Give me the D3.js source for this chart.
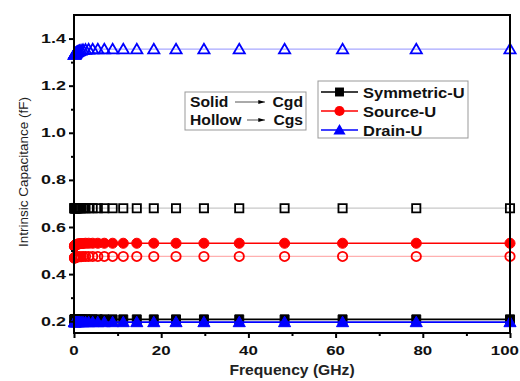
<!DOCTYPE html>
<html><head><meta charset="utf-8">
<script src="https://cdn.jsdelivr.net/npm/d3@7"></script>
<style>body{margin:0;background:#fff}svg{display:block}</style>
</head><body>
<svg id="c" width="520" height="381"></svg>
<script>
const freq = [0.1,0.113,0.144,0.183,0.234,0.298,0.379,0.483,0.616,0.785,1.0,1.27,1.62,2.07,2.64,3.36,4.28,5.46,6.95,8.86,11.3,14.4,18.3,23.4,29.8,37.9,48.3,61.6,78.5,100];
const symCgd = [0.208,0.208,0.208,0.208,0.208,0.208,0.208,0.208,0.208,0.208,0.208,0.208,0.208,0.208,0.208,0.208,0.208,0.208,0.208,0.208,0.208,0.208,0.208,0.208,0.208,0.208,0.208,0.208,0.208,0.208];
const symCgs = [0.680,0.680,0.680,0.680,0.680,0.680,0.680,0.680,0.680,0.680,0.680,0.680,0.680,0.680,0.680,0.680,0.680,0.680,0.680,0.680,0.680,0.680,0.680,0.680,0.680,0.680,0.680,0.680,0.680,0.680];
const srcCgd = [0.518,0.519,0.520,0.521,0.522,0.523,0.524,0.525,0.526,0.527,0.528,0.529,0.530,0.530,0.531,0.531,0.531,0.531,0.531,0.531,0.531,0.531,0.531,0.531,0.531,0.531,0.531,0.531,0.531,0.531];
const srcCgs = [0.468,0.469,0.469,0.470,0.471,0.471,0.472,0.472,0.473,0.473,0.474,0.474,0.474,0.475,0.475,0.475,0.475,0.475,0.475,0.475,0.475,0.475,0.475,0.475,0.475,0.475,0.475,0.475,0.475,0.475];
const drnCgd = [0.196,0.196,0.196,0.196,0.196,0.196,0.196,0.196,0.196,0.196,0.196,0.196,0.196,0.196,0.196,0.196,0.196,0.196,0.196,0.196,0.196,0.196,0.196,0.196,0.196,0.196,0.196,0.196,0.196,0.196];
const drnCgs = [1.332,1.333,1.333,1.334,1.335,1.336,1.338,1.340,1.342,1.344,1.346,1.348,1.350,1.352,1.353,1.354,1.355,1.355,1.355,1.355,1.355,1.355,1.355,1.355,1.355,1.355,1.355,1.355,1.355,1.355];
const xTicks = [0,20,40,60,80,100];
const yTicks = [0.2,0.4,0.6,0.8,1.0,1.2,1.4];
const legendNames = ["Symmetric-U","Source-U","Drain-U"];
const noteRows = [["Solid","Cgd"],["Hollow","Cgs"]];

const svg = d3.select("#c");
const W=520, L=74, R=510, T=15, B=333;
const x = d3.scaleLinear().domain([0,100]).range([L,R]);
const y = d3.scaleLinear().domain([0.15,1.5]).range([B,T]);
const font = "Arial, 'Liberation Sans', sans-serif";

function stext(p, tx, ty, str, size, sx, anchor, weight, fill){
  return p.append("text").attr("transform",`translate(${tx},${ty}) scale(${sx},1)`)
    .attr("text-anchor",anchor||"start").attr("font-family",font)
    .attr("font-weight",weight||"bold").attr("font-size",size).attr("fill",fill||"#111").text(str);
}

const series = [
  {v:srcCgs, c:"#ff0000", lc:"#ffb0b0", m:"circle", fill:false},
  {v:symCgs, c:"#000000", lc:"#c8c8c8", m:"square", fill:false},
  {v:drnCgs, c:"#0000ff", lc:"#a8a8ff", m:"triangle", fill:false},
  {v:srcCgd, c:"#ff0000", lc:"#ff0000", m:"circle", fill:true},
  {v:symCgd, c:"#000000", lc:"#000000", m:"square", fill:true},
  {v:drnCgd, c:"#0000ff", lc:"#0000ff", m:"triangle", fill:true},
];
const sym = {square:d3.symbolSquare, circle:d3.symbolCircle, triangle:d3.symbolTriangle};
const sz = {square:80, circle:80, triangle:64};
const g = svg.append("g");
series.forEach(s=>{
  const line = d3.line().x((d,i)=>x(freq[i])).y(d=>y(d));
  g.append("path").attr("d",line(s.v)).attr("fill","none").attr("stroke",s.lc).attr("stroke-width",s.fill?1.6:1.3);
  g.selectAll(null).data(s.v).enter().append("path")
    .attr("transform",(d,i)=>`translate(${x(freq[i])},${y(d)+(s.m==="triangle"?1:0)})`)
    .attr("d",d3.symbol().type(sym[s.m]).size(s.fill?sz[s.m]:sz[s.m]*0.85))
    .attr("fill",s.fill?s.c:"none").attr("stroke",s.c).attr("stroke-width",s.fill?1:1.8);
});

// frame
svg.append("rect").attr("x",L).attr("y",T).attr("width",R-L).attr("height",B-T).attr("fill","none").attr("stroke","#000").attr("stroke-width",2);

// x axis ticks
svg.append("g").attr("transform",`translate(0,${B})`)
  .call(d3.axisBottom(x).tickValues(xTicks).tickSize(5).tickFormat(""));
svg.append("g").attr("transform",`translate(0,${B})`)
  .call(d3.axisBottom(x).tickValues([10,30,50,70,90]).tickSize(3).tickFormat(""));
// y axis ticks
svg.append("g").attr("transform",`translate(${L},0)`)
  .call(d3.axisLeft(y).tickValues(yTicks).tickSize(5).tickFormat(""));
svg.append("g").attr("transform",`translate(${L},0)`)
  .call(d3.axisLeft(y).tickValues([0.3,0.5,0.7,0.9,1.1,1.3]).tickSize(3).tickFormat(""));
svg.selectAll(".domain").remove();
svg.selectAll(".tick line").attr("stroke","#000").attr("stroke-width",2);

const tl = svg.append("g");
xTicks.forEach(d=>{
  const sx = 1.3;
  const t = stext(tl, x(d), 355, d3.format("d")(d), 13, sx, "middle");
  const half = t.node().getComputedTextLength()*sx/2;
  if (x(d)+half > W-1) t.attr("transform",`translate(${W-1-half},355) scale(${sx},1)`);
});
yTicks.forEach(d=>stext(tl, 66, y(d)+4.6, d3.format(".1f")(d), 13, 1.38, "end"));

stext(svg, 292, 375, "Frequency (GHz)", 14.5, 1.08, "middle", "bold", "#222");
svg.append("text").attr("transform","translate(28,172) rotate(-90)").attr("text-anchor","middle")
  .attr("font-family",font).attr("font-size",13.5).attr("fill","#222").text("Intrinsic Capacitance (fF)");

// annotation box
const nb = svg.append("g");
nb.append("rect").attr("x",185).attr("y",92).attr("width",121).attr("height",38).attr("fill","#fff").attr("stroke","#999").attr("stroke-width",1);
svg.append("defs").append("marker").attr("id","ah").attr("viewBox","0 0 10 6").attr("refX",10).attr("refY",3)
  .attr("markerWidth",9).attr("markerHeight",4).attr("orient","auto").attr("markerUnits","userSpaceOnUse")
  .append("path").attr("d","M0,0L10,3L0,6Z").attr("fill","#000");
noteRows.forEach((r,i)=>{
  const yy = 107 + i*18;
  stext(nb, 190, yy, r[0], 14, 1.12);
  nb.append("line").attr("x1",i===0?235:247).attr("x2",265).attr("y1",yy-5).attr("y2",yy-5).attr("stroke","#555").attr("stroke-width",1).attr("marker-end","url(#ah)");
  stext(nb, 303, yy, r[1], 14, 1.12, "end");
});

// legend
const lg = svg.append("g");
lg.append("rect").attr("x",318).attr("y",81).attr("width",150).attr("height",57).attr("fill","#fff").attr("stroke","#999").attr("stroke-width",1);
const lc = ["#000","#ff0000","#0000ff"], lm=["square","circle","triangle"];
legendNames.forEach((n,i)=>{
  const yy = 92 + i*19;
  lg.append("line").attr("x1",321).attr("x2",358).attr("y1",yy).attr("y2",yy).attr("stroke",lc[i]).attr("stroke-width",1.6);
  lg.append("path").attr("transform",`translate(339.5,${yy+(i===2?1:0)})`).attr("d",d3.symbol().type(sym[lm[i]]).size(sz[lm[i]])).attr("fill",lc[i]);
  stext(lg, 363, yy+5.5, n, 15, 1.1);
});
</script>
</body></html>
